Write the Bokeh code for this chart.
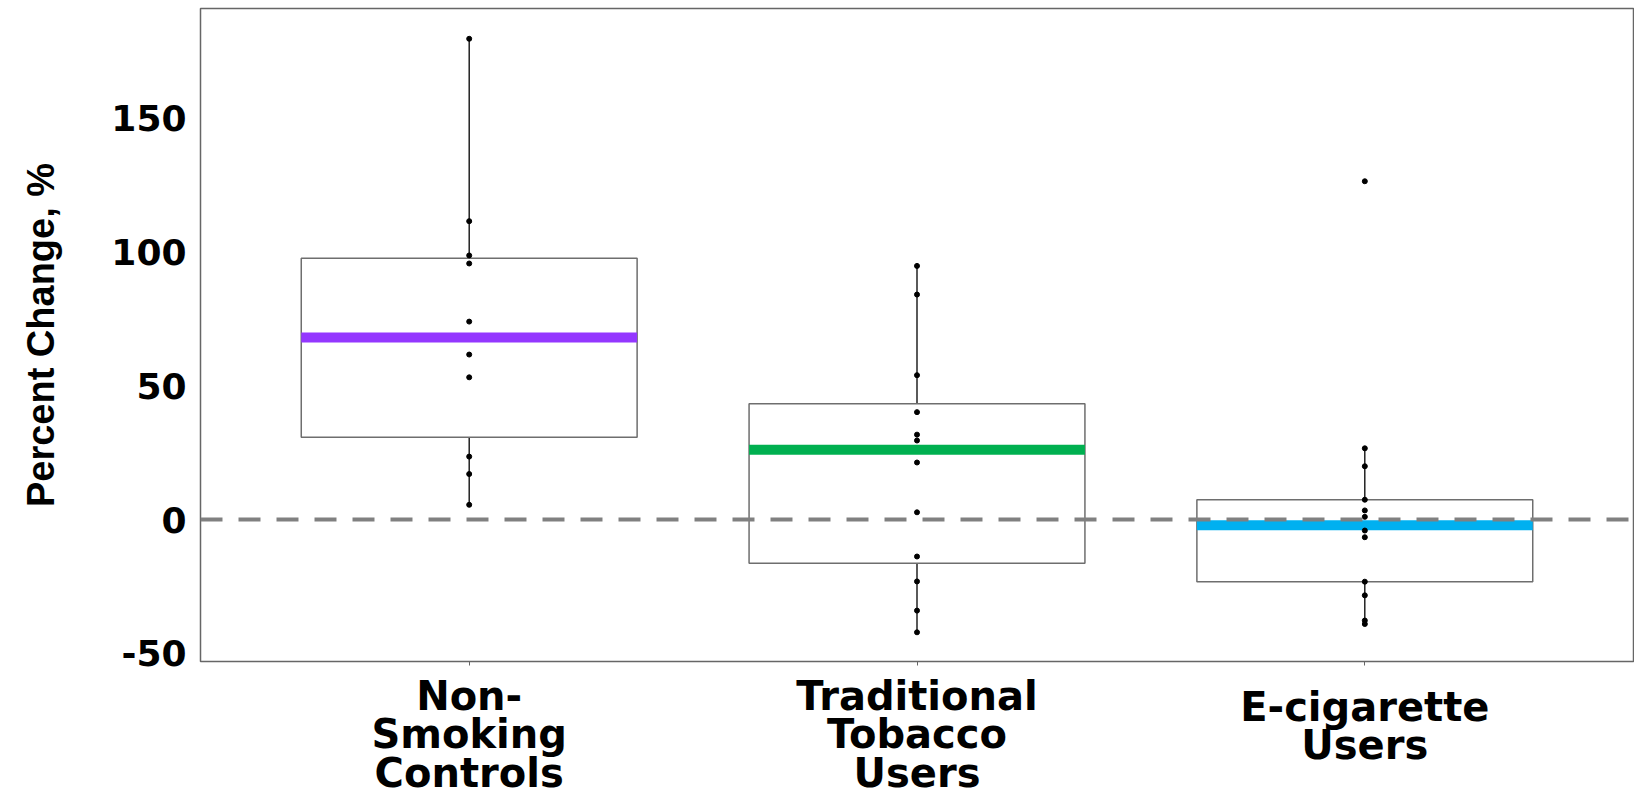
from bokeh.plotting import figure
from bokeh.models import Range1d, FixedTicker, Span
from bokeh.layouts import column
from bokeh.core.properties import value
from bokeh.embed import file_html
from bokeh.resources import INLINE

# ---- data ----
categories = ["Non-Smoking Controls", "Traditional Tobacco Users", "E-cigarette Users"]
tick_labels = ["Non-\nSmoking\nControls", "Traditional\nTobacco\nUsers", "E-cigarette\nUsers"]
colors = ["#9437FF", "#00B050", "#00B0F0"]

nonsmoking = [179.5, 111.4, 98.6, 95.6, 73.9, 61.6, 53.1, 23.5, 17.0, 5.5]
traditional = [94.7, 84.0, 53.9, 40.1, 31.7, 29.5, 21.3, 2.7, -13.8, -23.1, -34.0, -42.1]
ecigarette = [126.3, 26.6, 19.9, 7.4, 3.4, 1.0, -4.1, -6.6, -23.2, -28.3, -37.7, -39.0]

q1 = [30.7, -16.3, -23.2]
median = [68.0, 26.1, -2.1]
q3 = [97.6, 43.2, 7.4]
whisker_low = [5.5, -42.1, -39.0]
whisker_high = [179.5, 94.7, 26.6]

y_ticks = [-50, 0, 50, 100, 150]

groups = [nonsmoking, traditional, ecigarette]
xpos = [i + 1 for i in range(len(categories))]

# ---- layout ----
W, H = 1634, 788
TOP, FRAME_H, BOTTOM_PAD = 8, 653, 16
LEFT, RIGHT = 200, 1
MAIN_H = TOP + FRAME_H + BOTTOM_PAD
LABEL_H = H - MAIN_H
YMIN, YMAX = -53.0, 190.8
xr = Range1d(0.4, 3.6)

p = figure(width=W, height=MAIN_H, output_backend="svg", toolbar_location=None,
           x_range=xr, y_range=Range1d(YMIN, YMAX),
           min_border_left=LEFT, min_border_right=RIGHT, min_border_top=TOP,
           min_border_bottom=BOTTOM_PAD)

p.xgrid.visible = False
p.ygrid.visible = False
p.outline_line_color = "#666666"
p.outline_line_width = 1.5
p.background_fill_color = "white"
p.border_fill_color = "white"

# whiskers
p.segment(x0=xpos, y0=q3, x1=xpos, y1=whisker_high, line_color="black", line_width=1.3)
p.segment(x0=xpos, y0=whisker_low, x1=xpos, y1=q1, line_color="black", line_width=1.3)

# boxes
p.vbar(x=xpos, width=0.75, bottom=q1, top=q3, fill_color="white",
       line_color="#6e6e6e", line_width=1.5)

# median bands
p.segment(x0=[x - 0.375 for x in xpos], y0=median, x1=[x + 0.375 for x in xpos], y1=median,
          line_color=colors, line_width=10)

# zero reference line
p.add_layout(Span(location=0, dimension="width", line_color="#808080",
                  line_width=4, line_dash="22 16"))

# points
px, py = [], []
for x, g in zip(xpos, groups):
    px += [x] * len(g)
    py += g
p.scatter(x=px, y=py, size=5, marker="circle", fill_color="black", line_color="black")

# y axis
p.yaxis.ticker = FixedTicker(ticks=y_ticks)
p.yaxis.major_label_overrides = {t: str(t) for t in y_ticks}
p.yaxis.major_label_text_font = "DejaVu Sans"
p.yaxis.major_label_text_font_style = "bold"
p.yaxis.major_label_text_font_size = "36px"
p.yaxis.major_label_text_color = "black"
p.yaxis.major_tick_line_color = None
p.yaxis.minor_tick_line_color = None
p.yaxis.major_label_standoff = 8
p.yaxis.axis_line_color = "#666666"
p.yaxis.axis_label = "Percent Change, %"
p.yaxis.axis_label_text_font = "Liberation Sans"
p.yaxis.axis_label_text_font_style = "bold"
p.yaxis.axis_label_text_font_size = "38px"
p.yaxis.axis_label_text_color = "black"
p.yaxis.axis_label_standoff = 46

# x axis: tick marks only (category names are drawn in the strip below)
p.xaxis.ticker = FixedTicker(ticks=xpos)
p.xaxis.major_label_overrides = {x: "" for x in xpos}
p.xaxis.major_label_text_font_size = "8px"
p.xaxis.major_label_standoff = 0
p.xaxis.major_tick_line_color = "#666666"
p.xaxis.major_tick_in = 0
p.xaxis.major_tick_out = 4
p.xaxis.minor_tick_line_color = None
p.xaxis.axis_line_color = "#666666"

# ---- category labels strip below the plot (shares the x range) ----
q = figure(width=W, height=LABEL_H, output_backend="svg", toolbar_location=None,
           x_range=xr, y_range=Range1d(-LABEL_H, 0),
           x_axis_location=None, y_axis_location=None,
           min_border_left=LEFT, min_border_right=RIGHT, min_border_top=0,
           min_border_bottom=0)
q.xgrid.visible = False
q.ygrid.visible = False
q.outline_line_color = None
q.border_fill_color = "white"

# label block centres, px below the top of this strip
label_centre = [-57, -57, -48.5]
q.text(x=xpos, y=label_centre, text=tick_labels, text_align="center",
       text_baseline="middle", text_font=value("DejaVu Sans"), text_font_style="bold",
       text_font_size="40px", text_color="black", text_line_height=0.84)

layout = column(p, q, spacing=0)
open("out.html", "w").write(file_html(layout, INLINE))
